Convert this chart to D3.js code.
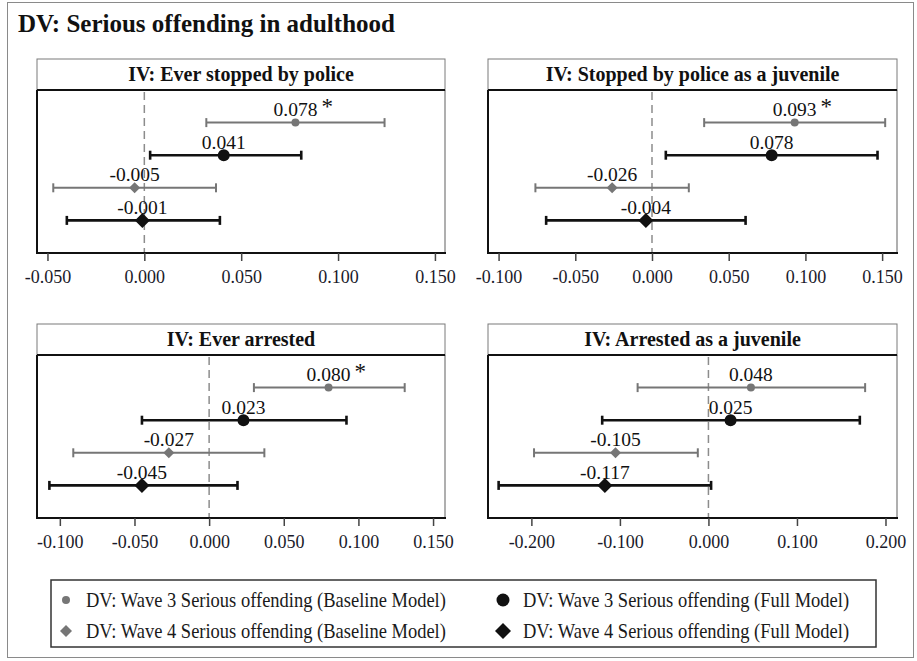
<!DOCTYPE html>
<html>
<head>
<meta charset="utf-8">
<script src="https://d3js.org/d3.v7.min.js"></script>
<style>
  body { margin: 0; background: #fff; }
  svg text { font-family: "Liberation Serif", "Times New Roman", serif; }
</style>
</head>
<body>
<svg id="chart" width="917" height="661"></svg>
<script>
// ---- data ----
const chartTitle = "DV: Serious offending in adulthood";
const panelTitles = ["IV: Ever stopped by police", "IV: Stopped by police as a juvenile",
                     "IV: Ever arrested", "IV: Arrested as a juvenile"];
// row order inside each panel: W3 baseline, W3 full, W4 baseline, W4 full
const seriesNames = ["DV: Wave 3 Serious offending (Baseline Model)", "DV: Wave 3 Serious offending (Full Model)",
                     "DV: Wave 4 Serious offending (Baseline Model)", "DV: Wave 4 Serious offending (Full Model)"];
const estimates = [[0.078, 0.041, -0.005, -0.001],
                   [0.093, 0.078, -0.026, -0.004],
                   [0.080, 0.023, -0.027, -0.045],
                   [0.048, 0.025, -0.105, -0.117]];
const lowerCI = [[0.032, 0.003, -0.047, -0.040],
                 [0.034, 0.009, -0.076, -0.069],
                 [0.030, -0.045, -0.091, -0.107],
                 [-0.080, -0.120, -0.197, -0.237]];
const upperCI = [[0.124, 0.081, 0.037, 0.039],
                 [0.152, 0.147, 0.024, 0.061],
                 [0.131, 0.092, 0.037, 0.019],
                 [0.177, 0.171, -0.012, 0.003]];
const significant = [[true, false, false, false],
                     [true, false, false, false],
                     [true, false, false, false],
                     [false, false, false, false]];
const xDomains = [[-0.0554, 0.1552], [-0.1069, 0.1597], [-0.1153, 0.158], [-0.249, 0.213]];
const tickVals = [[-0.05, 0, 0.05, 0.1, 0.15],
                  [-0.1, -0.05, 0, 0.05, 0.1, 0.15],
                  [-0.1, -0.05, 0, 0.05, 0.1, 0.15],
                  [-0.2, -0.1, 0, 0.1, 0.2]];

const svg = d3.select("#chart");
const gray = "#767676", black = "#111";
const isFull = [false, true, false, true];
const isDiamond = [false, false, true, true];

// outer frame
svg.append("rect").attr("x", 7.5).attr("y", 2.5).attr("width", 906).attr("height", 655)
   .attr("fill", "none").attr("stroke", "#8a8a8a").attr("stroke-width", 1);

svg.append("text").attr("x", 18).attr("y", 32)
   .attr("font-size", 25).attr("font-weight", "bold").attr("fill", "#111")
   .text(chartTitle);

const colX = [[37, 445], [488, 897]];
const rowTop = [59, 324];
const headH = 31, plotH = 163;

function marker(g, i, x, y) {
  const col = isFull[i] ? black : gray;
  if (isDiamond[i]) {
    const s = isFull[i] ? 7.5 : 5.5;
    g.append("path").attr("d", `M${x},${y - s}L${x + s},${y}L${x},${y + s}L${x - s},${y}Z`).attr("fill", col);
  } else {
    g.append("circle").attr("cx", x).attr("cy", y).attr("r", isFull[i] ? 6 : 4).attr("fill", col);
  }
}

panelTitles.forEach((title, p) => {
  const [x0, x1] = colX[p % 2];
  const top = rowTop[Math.floor(p / 2)];
  const pTop = top + headH, pBot = pTop + plotH;
  const g = svg.append("g");

  const x = d3.scaleLinear().domain(xDomains[p]).range([x0, x1]);
  const y = d3.scalePoint().domain(d3.range(4)).range([pTop, pBot]).padding(1);

  // header
  g.append("rect").attr("x", x0).attr("y", top).attr("width", x1 - x0).attr("height", headH)
   .attr("fill", "#fff").attr("stroke", "#7a7a7a").attr("stroke-width", 1);
  g.append("text").attr("x", (x0 + x1) / 2).attr("y", top + 22).attr("text-anchor", "middle")
   .attr("font-size", 20).attr("font-weight", "bold").attr("fill", "#111").text(title);

  // plot frame
  g.append("line").attr("x1", x1).attr("x2", x1).attr("y1", pTop).attr("y2", pBot)
   .attr("stroke", "#7a7a7a").attr("stroke-width", 1.2);
  g.append("line").attr("x1", x0).attr("x2", x0).attr("y1", pTop).attr("y2", pBot + 1)
   .attr("stroke", "#111").attr("stroke-width", 2);

  // zero reference
  g.append("line").attr("x1", x(0)).attr("x2", x(0)).attr("y1", pTop + 2).attr("y2", pBot)
   .attr("stroke", "#8c8c8c").attr("stroke-width", 1.5).attr("stroke-dasharray", "8,5");

  g.append("line").attr("x1", x0).attr("x2", x1).attr("y1", pTop).attr("y2", pTop)
   .attr("stroke", "#111").attr("stroke-width", 2);

  // x axis
  const ax = g.append("g").attr("transform", `translate(0,${pBot})`)
    .call(d3.axisBottom(x).tickValues(tickVals[p]).tickSize(8).tickPadding(9)
      .tickFormat(d => d.toFixed(3)));
  ax.select(".domain").attr("stroke", "#111").attr("stroke-width", 2)
    .attr("d", `M${x0 - 1},0H${x1 + 1}`);
  ax.selectAll(".tick line").attr("stroke", "#444").attr("stroke-width", 1.5);
  ax.selectAll(".tick text").attr("font-size", 18).attr("fill", "#1a1a2a")
    .attr("font-family", "Liberation Serif, Times New Roman, serif");

  // confidence intervals
  d3.range(4).forEach(i => {
    const col = isFull[i] ? black : gray;
    const sw = isFull[i] ? 2.6 : 2;
    const yy = y(i), xl = x(lowerCI[p][i]), xr = x(upperCI[p][i]);
    g.append("line").attr("x1", xl).attr("x2", xr).attr("y1", yy).attr("y2", yy)
     .attr("stroke", col).attr("stroke-width", sw);
    [xl, xr].forEach(xc => g.append("line").attr("x1", xc).attr("x2", xc)
      .attr("y1", yy - 4.5).attr("y2", yy + 4.5).attr("stroke", col).attr("stroke-width", sw));
  });

  // estimates and labels
  d3.range(4).forEach(i => {
    const xx = x(estimates[p][i]), yy = y(i);
    marker(g, i, xx, yy);
    const lbl = g.append("text").attr("x", xx).attr("y", yy - 6.5).attr("text-anchor", "middle")
      .attr("font-size", 19.5).attr("fill", "#111").text(estimates[p][i].toFixed(3));
    if (significant[p][i]) {
      const w = lbl.node().getComputedTextLength();
      g.append("text").attr("x", xx + w / 2 + 4).attr("y", yy - 9)
       .attr("font-size", 23).attr("fill", "#111").text("*");
    }
  });
});

// legend
svg.append("rect").attr("x", 51).attr("y", 580).attr("width", 825).attr("height", 67)
   .attr("fill", "#fff").attr("stroke", "#333").attr("stroke-width", 1.5);
const legPos = [[66, 600], [503, 600], [66, 631], [503, 631]];
seriesNames.forEach((name, i) => {
  const [lx, ly] = legPos[i];
  const lg = svg.append("g");
  if (isDiamond[i]) {
    const s = isFull[i] ? 8 : 6;
    lg.append("path").attr("d", `M${lx},${ly - s}L${lx + s},${ly}L${lx},${ly + s}L${lx - s},${ly}Z`)
      .attr("fill", isFull[i] ? black : gray);
  } else {
    lg.append("circle").attr("cx", lx).attr("cy", ly).attr("r", isFull[i] ? 6.5 : 4)
      .attr("fill", isFull[i] ? black : gray);
  }
  // slightly taller glyphs, as in the source figure
  lg.append("text").attr("transform", `translate(${lx + 20},${ly + 7}) scale(1,1.12)`)
    .attr("font-size", 18.5).attr("fill", "#1a1a1a").text(name);
});
</script>
</body>
</html>
